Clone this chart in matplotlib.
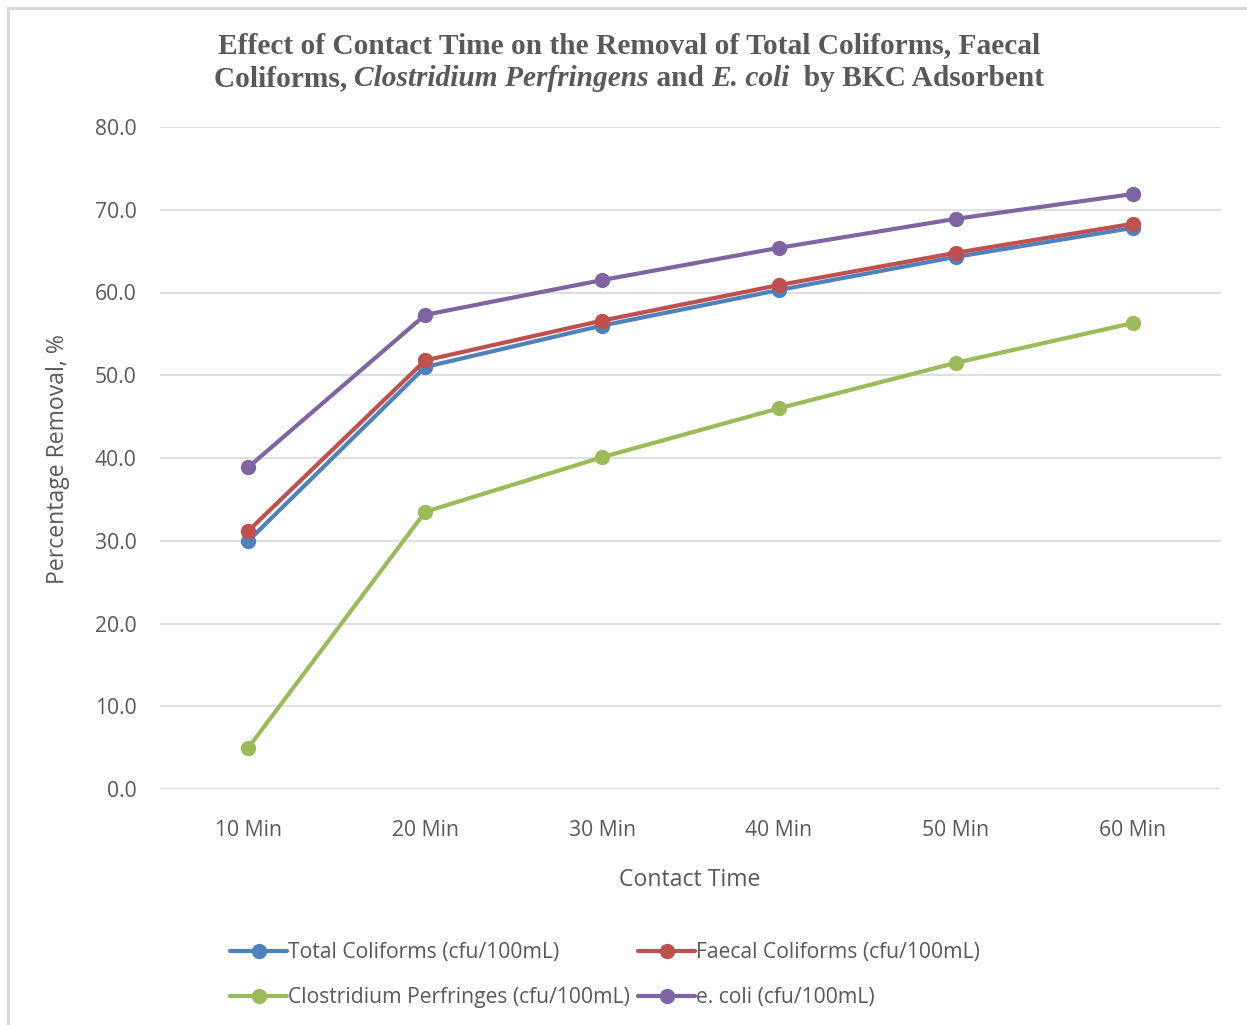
import matplotlib
matplotlib.use("Agg")
import matplotlib.pyplot as plt
from matplotlib.patches import Rectangle

# contact time categories and % removal for each organism
times = ["10 Min", "20 Min", "30 Min", "40 Min", "50 Min", "60 Min"]
total_coliforms = [30.0, 51.0, 56.0, 60.3, 64.3, 67.8]
faecal_coliforms = [31.2, 51.8, 56.6, 60.9, 64.8, 68.3]
clostridium = [5.0, 33.5, 40.1, 46.0, 51.5, 56.3]
e_coli = [38.9, 57.3, 61.5, 65.4, 68.9, 71.9]

series = [
    ("Total Coliforms (cfu/100mL)", total_coliforms, "#4F81BD"),
    ("Faecal Coliforms (cfu/100mL)", faecal_coliforms, "#C0504D"),
    ("Clostridium Perfringes (cfu/100mL)", clostridium, "#9BBB59"),
    ("e. coli (cfu/100mL)", e_coli, "#8064A2"),
]

text_col = "#595959"
grid_col = "#D9D9D9"
plt.rcParams["font.family"] = ["Open Sans", "DejaVu Sans"]

W, H = 1247, 1025
fig = plt.figure(figsize=(W / 100, H / 100), dpi=100)
ax = fig.add_axes([160 / W, 1 - 789 / H, 1061 / W, 662 / H])

x = list(range(len(times)))
handles = {}
for name, vals, col in series:
    ln, = ax.plot(x, vals, color=col, lw=3, marker="o", ms=10, label=name,
                  solid_capstyle="round")
    handles[name] = ln

ax.set_ylim(0, 80)
ax.set_xlim(-0.5, len(times) - 0.5)
ax.set_yticks(range(0, 81, 10))
ax.set_yticklabels([f"{v:.1f}" for v in range(0, 81, 10)])
ax.set_xticks(x)
ax.set_xticklabels(times)
ax.grid(axis="y", color=grid_col, lw=1.2)
ax.set_axisbelow(True)
for s in ax.spines.values():
    s.set_visible(False)
ax.tick_params(length=0, labelsize=15.2, colors=text_col)
ax.tick_params(axis="y", pad=17)
ax.tick_params(axis="x", pad=22.5)

ax.set_ylabel("Percentage Removal, %", fontsize=16.6, color=text_col)
ax.set_xlabel("Contact Time", fontsize=16.6, color=text_col)
ax.yaxis.set_label_coords((58 - 160) / 1061, (789 - 459) / 662)
ax.xaxis.set_label_coords((690 - 160) / 1061, -(880 - 789) / 662)
ax.xaxis.label.set_va("center")
ax.yaxis.label.set_va("center")

# legend fills column by column, so order it to read across the rows
order = ["Total Coliforms (cfu/100mL)", "Clostridium Perfringes (cfu/100mL)",
         "Faecal Coliforms (cfu/100mL)", "e. coli (cfu/100mL)"]
ax.legend([handles[n] for n in order], order,
          loc="upper left", bbox_to_anchor=(230 / W, 1 - 942 / H),
          bbox_transform=fig.transFigure, ncol=2, frameon=False,
          fontsize=15.2, labelcolor=text_col, handlelength=2.7,
          handletextpad=0.05, columnspacing=0.4, labelspacing=1.15,
          borderaxespad=0, borderpad=0)

# two-line title with italic species names, pieced together and centred
title_lines = [
    [("Effect of Contact Time on the Removal of Total Coliforms, Faecal", "normal")],
    [("Coliforms, ", "normal"), ("Clostridium Perfringens", "italic"),
     (" and ", "normal"), ("E. coli", "italic"), ("  by BKC Adsorbent", "normal")],
]
line_y = [46, 79]
renderer = fig.canvas.get_renderer()
for parts, yp in zip(title_lines, line_y):
    pieces = []
    for txt, style in parts:
        t = fig.text(0, 1 - yp / H, txt, fontsize=21.2, fontweight="bold",
                     fontstyle=style, family="Liberation Serif",
                     color=text_col, va="center", ha="left")
        pieces.append(t)
    widths = [p.get_window_extent(renderer).width for p in pieces]
    xs = 629 - sum(widths) / 2
    for p, w in zip(pieces, widths):
        p.set_x(xs / W)
        xs += w

# chart frame: only the left and top edges fall inside the image
fig.patches.append(Rectangle((8 / W, -0.1), 1.2, 1.1 - 8 / H,
                             transform=fig.transFigure, fill=False,
                             edgecolor=grid_col, lw=2.2))

fig.savefig("out.png", dpi=100)
